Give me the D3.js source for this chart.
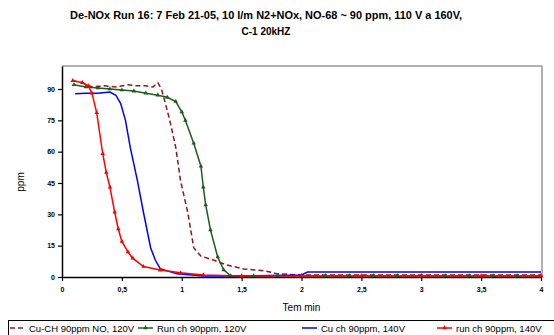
<!DOCTYPE html>
<html><head><meta charset="utf-8">
<script src="https://cdn.jsdelivr.net/npm/d3@7/dist/d3.min.js"></script>
<style>body{margin:0;background:#fff}svg{display:block;font-family:"Liberation Sans",Arial,sans-serif}</style>
</head><body><svg id="c" width="554" height="335"></svg>
<script>
const titleLines = ["De-NOx Run 16: 7 Feb 21-05, 10 l/m N2+NOx, NO-68 ~ 90 ppm, 110 V a 160V,", "C-1 20kHZ"];
const xTicks = [0,0.5,1,1.5,2,2.5,3,3.5,4];
const yTicks = [0,15,30,45,60,75,90];
const seriesNames = ["Cu-CH 90ppm NO, 120V","Run ch 90ppm, 120V","Cu ch 90ppm, 140V","run ch 90ppm, 140V"];
const seriesColors = ["#8b1a1a","#1e5c1e","#0000ff","#ff0000"];
const cuch120 = [[0.09,94],[0.17,93],[0.25,91],[0.35,91.5],[0.45,91],[0.55,92],[0.62,91.5],[0.70,91.5],[0.76,91],[0.80,93],[0.83,90],[0.85,86],[0.90,75],[0.95,62],[0.99,46],[1.05,31],[1.10,14],[1.16,10],[1.27,8],[1.38,5.7],[1.52,3.8],[1.69,3],[1.80,1.5],[2.0,1],[2.5,1],[3.0,1],[3.5,1],[4.0,1]];
const runch120 = [[0.10,92],[0.20,91],[0.30,90.5],[0.40,90],[0.50,89.5],[0.60,89],[0.70,88],[0.80,87],[0.88,86],[0.95,84],[1.00,79],[1.03,75],[1.10,64],[1.16,53],[1.18,43],[1.20,34.5],[1.24,22.5],[1.30,9.6],[1.35,3.4],[1.41,0.5],[1.60,0.5],[1.80,0.5],[2.0,0.5],[2.2,0.5],[2.4,0.5],[2.6,0.5],[2.8,0.5],[3.0,0.5],[3.2,0.5],[3.4,0.5],[3.6,0.5],[3.8,0.5],[4.0,0.5]];
const cuch140 = [[0.11,87.7],[0.20,88],[0.30,88],[0.40,88.5],[0.45,87],[0.49,83],[0.53,75],[0.57,62],[0.60,54],[0.63,46],[0.68,31],[0.74,14],[0.78,8],[0.82,4],[0.96,1.5],[1.18,0.5],[1.5,0.5],[2.0,1],[2.05,2.4],[2.5,2.4],[3.0,2.4],[3.5,2.4],[4.0,2.4]];
const runch140 = [[0.09,94],[0.17,93],[0.22,91.5],[0.25,88],[0.29,78.6],[0.34,59],[0.37,50],[0.40,43],[0.44,31],[0.47,23],[0.50,17],[0.55,12],[0.59,9],[0.68,5],[0.82,3.3],[0.99,2],[1.18,1],[1.5,0.5],[2.0,0.5],[2.5,0.5],[3.0,0.5],[3.5,0.5],[4.0,0.5]];

const svg = d3.select("#c");
const L=62, R=541, T=66, B=277;
const x = d3.scaleLinear().domain([0,4]).range([L,R]);
const y = d3.scaleLinear().domain([0,101]).range([B,T]);
const fmt = d => String(d).replace(".", ",");

// title
svg.selectAll("text.title").data(titleLines).join("text")
  .attr("x",266).attr("y",(d,i)=>19+i*16).attr("text-anchor","middle")
  .attr("font-size",10).attr("font-weight","bold")
  .attr("textLength",(d,i)=>i===0?392:null).attr("lengthAdjust","spacingAndGlyphs").text(d=>d);

// frame
svg.append("line").attr("x1",L).attr("x2",R+1).attr("y1",T).attr("y2",T).attr("stroke","#999").attr("stroke-width",1.5);
svg.append("line").attr("x1",R+1).attr("x2",R+1).attr("y1",T).attr("y2",B).attr("stroke","#999").attr("stroke-width",1.5);

const xa = svg.append("g").attr("transform",`translate(0,${B})`)
  .call(d3.axisBottom(x).tickValues(xTicks).tickFormat(fmt).tickSize(4).tickSizeOuter(0));
const ya = svg.append("g").attr("transform",`translate(${L},0)`)
  .call(d3.axisLeft(y).tickValues(yTicks).tickSize(4).tickSizeOuter(0));
[xa,ya].forEach(g=>{g.select(".domain").attr("stroke","#000").attr("stroke-width",1.5);
  g.selectAll(".tick line").attr("stroke","#000").attr("stroke-width",1.2);
  g.selectAll("text").attr("font-size",7).attr("font-weight","bold").attr("font-family","Liberation Sans, Arial, sans-serif");});
xa.selectAll("text").attr("dy","1.2em");

svg.append("text").attr("x",(L+R)/2).attr("y",311).attr("text-anchor","middle").attr("font-size",10).text("Tem min");
svg.append("text").attr("transform","translate(24,182) rotate(-90)").attr("text-anchor","middle").attr("font-size",10).text("ppm");

const line = d3.line().x(d=>x(d[0])).y(d=>y(d[1]));
const all = [cuch120, runch120, cuch140, runch140];
const dashes = ["5,3",null,null,null];
const plot = svg.append("g");
all.forEach((s,i)=>{
  plot.append("path").datum(s).attr("d",line).attr("fill","none")
   .attr("stroke",seriesColors[i]).attr("stroke-width",1.5).attr("stroke-dasharray",dashes[i]);
});
const tri = d3.symbol().type(d3.symbolTriangle).size(9);
[[1,runch120],[3,runch140]].forEach(([i,s])=>{
  plot.selectAll(null).data(s).join("path").attr("d",tri)
    .attr("transform",d=>`translate(${x(d[0])},${y(d[1])})`).attr("fill",seriesColors[i]);
});

// legend
const lg = svg.append("g");
lg.append("rect").attr("x",8.5).attr("y",320.5).attr("width",560).attr("height",20).attr("fill","#fff").attr("stroke","#000");
const lx = [10,138,302,437];
seriesNames.forEach((n,i)=>{
  lg.append("line").attr("x1",lx[i]).attr("x2",lx[i]+15).attr("y1",328).attr("y2",328)
   .attr("stroke",seriesColors[i]).attr("stroke-width",1.5).attr("stroke-dasharray",dashes[i]);
  if(i===1||i===3) lg.append("path").attr("d",tri).attr("transform",`translate(${lx[i]+7.5},328)`).attr("fill",seriesColors[i]);
  lg.append("text").attr("x",lx[i]+19).attr("y",331.5).attr("font-size",9.5).text(n);
});
</script></body></html>
